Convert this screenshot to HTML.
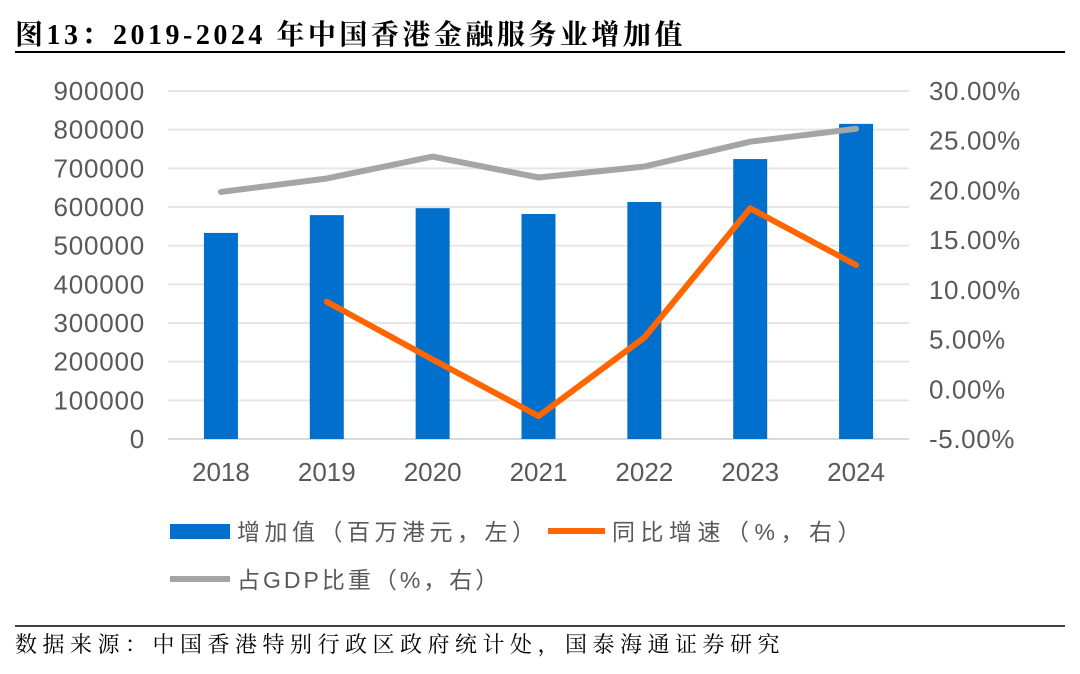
<!DOCTYPE html>
<html><head><meta charset="utf-8"><style>
body{margin:0;background:#fff;width:1080px;height:669px;overflow:hidden;font-family:"Liberation Sans","Noto Sans CJK SC",sans-serif}
svg text{font-family:"Liberation Sans","Noto Sans CJK SC",sans-serif}
</style></head><body>
<svg width="1080" height="669">
<text x="15" y="44" font-weight="bold" font-size="28" letter-spacing="3.5" fill="#000" style="font-family:'Liberation Serif','Noto Serif CJK SC',serif">图13：2019-2024 年中国香港金融服务业增加值</text>
<line x1="15" y1="52" x2="1065" y2="52" stroke="#000" stroke-width="2"/>
<g id="grid"></g><g id="bars"></g><g id="lines"></g><g id="axes"></g>
<g>
<rect x="170" y="524" width="60" height="15" fill="#0070CC"/>
<text x="237" y="540" font-size="23" letter-spacing="4.5" fill="#595959">增加值（百万港元，左）</text>
<line x1="548" y1="531" x2="605" y2="531" stroke="#FF6600" stroke-width="6"/>
<text x="612" y="540" font-size="23" letter-spacing="5.5" fill="#595959">同比增速（%，右）</text>
<line x1="170" y1="579" x2="230" y2="579" stroke="#A5A5A5" stroke-width="6"/>
<text x="237" y="588" font-size="23" letter-spacing="3" fill="#595959">占GDP比重（%，右）</text>
</g>
<line x1="15" y1="626" x2="1065" y2="626" stroke="#000" stroke-width="1.5"/>
<text x="15" y="652" font-size="22" letter-spacing="5.5" fill="#000" style="font-family:'Liberation Serif','Noto Serif CJK SC',serif">数据来源：中国香港特别行政区政府统计处，国泰海通证券研究</text>
</svg>
<script>
const categories=["2018","2019","2020","2021","2022","2023","2024"];
const valueAdded=[533000,579000,597000,582000,613000,724000,815000];
const growth=[null,8.8,3.0,-2.7,5.2,18.2,12.5];
const gdpShare=[19.85,21.2,23.4,21.3,22.4,24.9,26.2];
const leftTicks=[0,100000,200000,300000,400000,500000,600000,700000,800000,900000];
const rightTicks=[-5,0,5,10,15,20,25,30];
const NS="http://www.w3.org/2000/svg";
const X0=168,X1=909,Y0=439,Y1=91;
const step=(X1-X0)/categories.length;
const xc=i=>X0+step*(i+0.5);
const yL=v=>Y0-(v/900000)*(Y0-Y1);
const yR=v=>Y0-((v+5)/35)*(Y0-Y1);
function mk(t,a,p){const e=document.createElementNS(NS,t);for(const k in a)e.setAttribute(k,a[k]);p.appendChild(e);return e;}
const g=document.getElementById('grid'),b=document.getElementById('bars'),l=document.getElementById('lines'),ax=document.getElementById('axes');
leftTicks.forEach(v=>{
 const ln=mk('line',{x1:X0,x2:X1,y1:yL(v),y2:yL(v),stroke:v===0?'#D9D9D9':'#E6E6E6','stroke-width':2},g);
 
 
 const t=mk('text',{x:145,y:yL(v)+9,'text-anchor':'end','font-size':26,'letter-spacing':0.8,fill:'#595959'},ax);
 t.textContent=String(v);
 
 
});
rightTicks.forEach(v=>{
 const t=mk('text',{x:929,y:yR(v)+9,'font-size':26,'letter-spacing':0.6,fill:'#595959'},ax);
 t.textContent=v.toFixed(2)+'%';
 
 
});
categories.forEach((c,i)=>{
 const t=mk('text',{x:xc(i),y:481,'text-anchor':'middle','font-size':26,fill:'#595959'},ax);
 t.textContent=c;
 
 
 const r=mk('rect',{x:xc(i)-17,y:yL(valueAdded[i]),width:34,height:Y0-yL(valueAdded[i]),fill:'#0070CC'},b);
 
 
});
const gp=gdpShare.map((v,i)=>xc(i)+','+yR(v)).join(' ');
const gl=mk('polyline',{points:gp,fill:'none',stroke:'#A5A5A5','stroke-width':6,'stroke-linejoin':'round','stroke-linecap':'round'},l);


const op=growth.map((v,i)=>v===null?null:xc(i)+','+yR(v)).filter(p=>p).join(' ');
const ol=mk('polyline',{points:op,fill:'none',stroke:'#FF6600','stroke-width':6,'stroke-linejoin':'round','stroke-linecap':'round'},l);


</script>
</body></html>
